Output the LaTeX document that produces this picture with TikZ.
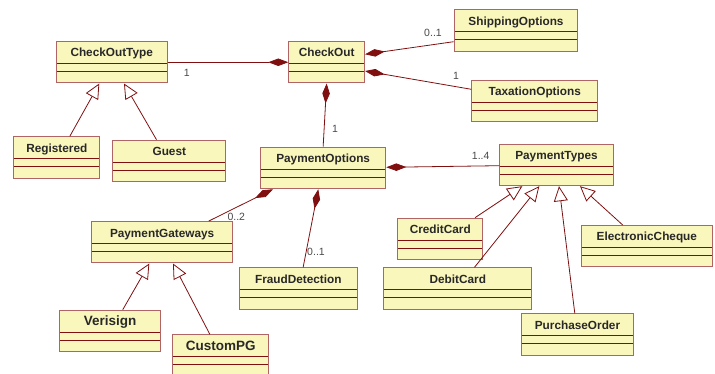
\documentclass[tikz,border=0pt]{standalone}
\usepackage{fontspec}
\setmainfont{Liberation Sans}
\usetikzlibrary{arrows.meta}
\definecolor{umlfill}{RGB}{250,247,188}
\definecolor{umledge}{RGB}{176,100,100}
\definecolor{umlline}{RGB}{128,16,16}
\definecolor{umltext}{RGB}{40,40,40}

\tikzset{
  umlclass/.style={draw=umledge, fill=umlfill, line width=1pt, anchor=north west,
    inner sep=0pt, minimum height=41.5pt, text height=15.5pt, text depth=26pt,
    font=\bfseries\fontsize{11.8}{12}\selectfont, text=umltext,
    path picture={
      \draw[umlline, line width=0.9pt] ([yshift=-22pt]path picture bounding box.north west) -- ([yshift=-22pt]path picture bounding box.north east);
      \draw[umlline, line width=0.9pt] ([yshift=-30pt]path picture bounding box.north west) -- ([yshift=-30pt]path picture bounding box.north east);
    }},
  bigclass/.style={umlclass, font=\bfseries\fontsize{13.5}{14}\selectfont},
  whole/.style={draw=umlline, line width=0.8pt, -{Diamond[length=20pt,width=7.5pt,fill=umlline]}},
  isa/.style={draw=umlline, line width=0.8pt, -{Triangle[open,length=15pt,width=14pt,fill=white]}},
  mult/.style={font=\fontsize{10.5}{11}\selectfont, text=umltext!85, inner sep=0pt}
}

\begin{document}
\begin{tikzpicture}[x=1pt, y=-1pt]

\useasboundingbox (0,0) rectangle (715,374);

% --- Checkout part ---
\node[umlclass, minimum width=111pt] (checkouttype) at (55.7,41) {CheckOutType};
\node[umlclass, minimum width=75.7pt] (checkout) at (288.3,41) {CheckOut};
\node[umlclass, minimum width=123.6pt] (shipping) at (453.7,9.3) {ShippingOptions};
\node[umlclass, minimum width=126pt] (taxation) at (471.3,80) {TaxationOptions};
\node[umlclass, minimum width=86pt] (registered) at (13.3,136.3) {Registered};
\node[umlclass, minimum width=113pt] (guest) at (112.3,139.7) {Guest};

% --- Payment part ---
\node[umlclass, minimum width=125.3pt] (payopts) at (260,146.7) {PaymentOptions};
\node[umlclass, minimum width=113.4pt] (paytypes) at (499.3,143.7) {PaymentTypes};
\node[umlclass, minimum width=141.3pt] (gateways) at (91,221) {PaymentGateways};
\node[umlclass, minimum width=117.7pt] (fraud) at (239,267.3) {FraudDetection};
\node[bigclass, minimum width=100.7pt] (verisign) at (59.3,309.7) {Verisign};
\node[bigclass, minimum width=96.3pt] (custompg) at (172,334.3) {CustomPG};
\node[umlclass, minimum width=85pt] (credit) at (397.3,217.7) {CreditCard};
\node[umlclass, minimum width=148pt] (debit) at (383.3,267.3) {DebitCard};
\node[umlclass, minimum width=112.6pt] (purchase) at (520.7,313.3) {PurchaseOrder};
\node[umlclass, minimum width=131.3pt] (echeque) at (580.7,225) {ElectronicCheque};

% Compositions (diamond at the whole)
\draw[whole] (checkouttype.east) -- (checkout.west);
\draw[whole] ([yshift=-32.4pt]shipping.north west) -- ([yshift=-13.3pt]checkout.north east);
\draw[whole] ([yshift=-9.3pt]taxation.north west) -- ([yshift=-30pt]checkout.north east);
\draw[whole] (payopts.north) -- (checkout.south);
\draw[whole] ([yshift=-22pt]paytypes.north west) -- ([yshift=-20.6pt]payopts.north east);
\draw[whole] ([xshift=46.7pt]gateways.north) -- ([xshift=13pt]payopts.south west);
\draw[whole] ([xshift=4.8pt]fraud.north) -- ([xshift=58.3pt]payopts.south west);

% Generalizations
\draw[isa] ([xshift=13pt]registered.north) -- ([xshift=43.6pt]checkouttype.south west);
\draw[isa] ([xshift=-12.8pt]guest.north) -- ([xshift=68.3pt]checkouttype.south west);
\draw[isa] ([xshift=12.6pt]verisign.north) -- ([xshift=58.3pt]gateways.south west);
\draw[isa] ([xshift=-10.8pt]custompg.north) -- ([xshift=82pt]gateways.south west);
\draw[isa] ([xshift=-8.3pt]credit.north east) -- ([xshift=23pt]paytypes.south west);
\draw[isa] ([xshift=16.7pt]debit.north) -- ([xshift=40pt]paytypes.south west);
\draw[isa] ([xshift=-2.7pt]purchase.north) -- ([xshift=59.7pt]paytypes.south west);
\draw[isa] ([xshift=42pt]echeque.north west) -- ([xshift=80.7pt]paytypes.south west);

% Multiplicities
\node[mult] (m-type) at (186.7,72.7) {1};
\node[mult] (m-ship) at (433,33) {0..1};
\node[mult] (m-tax) at (456,76) {1};
\node[mult] (m-opts) at (335,128.7) {1};
\node[mult] (m-types) at (480.7,156) {1..4};
\node[mult] (m-gate) at (236.3,217) {0..2};
\node[mult] (m-fraud) at (316,251.7) {0..1};

\end{tikzpicture}
\end{document}
